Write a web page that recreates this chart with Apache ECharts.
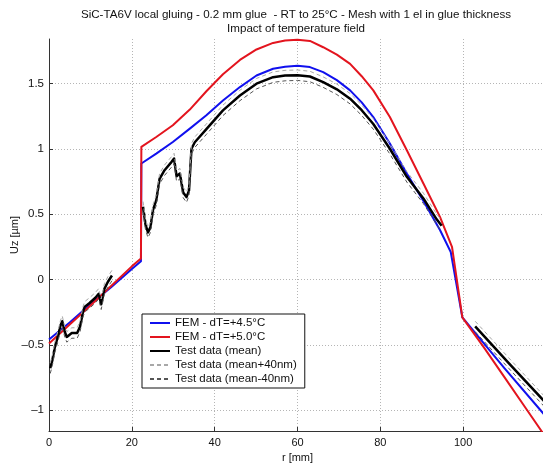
<!DOCTYPE html>
<html>
<head>
<meta charset="utf-8">
<script src="https://cdn.jsdelivr.net/npm/echarts@6/dist/echarts.min.js"></script>
<style>html,body{margin:0;padding:0;background:#fff}#c{width:543px;height:464px}</style>
</head>
<body>
<div id="c"></div>
<script>
// ---- Data ----
const titleLines = ["SiC-TA6V local gluing - 0.2 mm glue  - RT to 25°C - Mesh with 1 el in glue thickness", "Impact of temperature field"];
const seriesNames = ["FEM - dT=+4.5°C", "FEM - dT=+5.0°C", "Test data (mean)", "Test data (mean+40nm)", "Test data (mean-40nm)"];

const blueX = [0, 5, 10, 15, 20, 22.2, 22.3, 25.9, 29.9, 34, 38, 42, 46.1, 50.1, 54.1, 57, 60, 63, 66.2, 69.5, 72.7, 75.5, 78.3, 82.3, 86.4, 90.4, 94.4, 97, 99.8, 110, 120];
const blueY = [-0.46, -0.33, -0.19, -0.06, 0.08, 0.14, 0.887, 0.963, 1.052, 1.154, 1.256, 1.37, 1.472, 1.561, 1.612, 1.628, 1.635, 1.625, 1.586, 1.525, 1.447, 1.355, 1.243, 1.04, 0.81, 0.6, 0.378, 0.21, -0.29, -0.68, -1.05];

const redX = [0, 5, 10, 15, 20, 22.2, 22.3, 25.9, 29.9, 34, 38, 42, 46.1, 50.1, 54.1, 57, 60, 63, 66.2, 69.5, 72.7, 75.5, 78.3, 82.3, 86.4, 90.4, 94.4, 97.3, 99.8, 105, 110, 115, 120];
const redY = [-0.49, -0.345, -0.2, -0.05, 0.1, 0.16, 1.014, 1.09, 1.18, 1.3, 1.44, 1.57, 1.68, 1.76, 1.81, 1.828, 1.835, 1.825, 1.777, 1.72, 1.65, 1.555, 1.447, 1.243, 0.989, 0.734, 0.479, 0.25, -0.29, -0.52, -0.75, -0.98, -1.21];

// Test data: three measured segments
const meanX1 = [0.3, 0.8, 1.4, 2.2, 2.8, 3.2, 3.8, 4.3, 5.5, 6.8, 7.5, 8.2, 8.6, 9.8, 11.2, 12, 12.6, 13.4, 14.2, 15.2];
const meanY1 = [-0.68, -0.62, -0.52, -0.43, -0.35, -0.32, -0.4, -0.44, -0.41, -0.41, -0.36, -0.25, -0.21, -0.18, -0.14, -0.11, -0.19, -0.07, -0.02, 0.03];
const plusY1 = [-0.64, -0.58, -0.48, -0.39, -0.31, -0.28, -0.36, -0.4, -0.37, -0.37, -0.32, -0.21, -0.17, -0.14, -0.1, -0.07, -0.15, -0.03, 0.02, 0.07];
const minusY1 = [-0.72, -0.66, -0.56, -0.47, -0.39, -0.36, -0.44, -0.48, -0.45, -0.45, -0.4, -0.29, -0.25, -0.22, -0.18, -0.15, -0.23, -0.11, -0.06, -0.01];

const meanX2 = [22.7, 23.3, 23.9, 24.5, 25.1, 25.9, 26.7, 27.9, 29.6, 30.2, 30.8, 31.6, 32.4, 33.2, 33.8, 34.4, 35.2, 38, 42, 46.1, 50.1, 54.1, 57, 60, 63, 66.2, 69.5, 72.7, 75.5, 78.3, 82.3, 86.4, 90.4, 93.6, 94.8];
const meanY2 = [0.556, 0.42, 0.36, 0.4, 0.53, 0.607, 0.77, 0.836, 0.9, 0.925, 0.79, 0.81, 0.665, 0.63, 0.68, 1.0, 1.05, 1.15, 1.294, 1.408, 1.498, 1.548, 1.56, 1.563, 1.553, 1.51, 1.455, 1.383, 1.295, 1.19, 1.0, 0.785, 0.62, 0.46, 0.41];
const plusY2 = [0.596, 0.46, 0.4, 0.44, 0.57, 0.647, 0.81, 0.876, 0.94, 0.965, 0.83, 0.85, 0.705, 0.67, 0.72, 1.04, 1.09, 1.19, 1.334, 1.448, 1.538, 1.588, 1.6, 1.603, 1.593, 1.55, 1.495, 1.423, 1.335, 1.23, 1.04, 0.825, 0.66, 0.5, 0.45];
const minusY2 = [0.516, 0.38, 0.32, 0.36, 0.49, 0.567, 0.73, 0.796, 0.86, 0.885, 0.75, 0.77, 0.625, 0.59, 0.64, 0.96, 1.01, 1.11, 1.254, 1.368, 1.458, 1.508, 1.52, 1.523, 1.513, 1.47, 1.415, 1.343, 1.255, 1.15, 0.96, 0.745, 0.58, 0.42, 0.37];

const meanX3 = [102.9, 111, 119.5];
const meanY3 = [-0.36, -0.64, -0.93];
const plusY3 = [-0.32, -0.6, -0.89];
const minusY3 = [-0.4, -0.68, -0.97];

// ---- Chart ----
const FONT = "'Liberation Sans', Arial, Helvetica, sans-serif";
const pairs = (xs, ys) => xs.map((x, i) => [x, ys[i]]);
const chart = echarts.init(document.getElementById('c'), null, {renderer: 'canvas'});

function lineSeries(name, data, color, width, type, z) {
  return {
    name: name, type: 'line', data: data, symbol: 'none', showSymbol: false,
    lineStyle: {color: color, width: width, type: type, join: 'round'},
    itemStyle: {color: color},
    z: z, animation: false, silent: true
  };
}

const gridStyle = {show: true, lineStyle: {color: '#b5b5b5', type: [1, 2], width: 1}, showMinLine: false, showMaxLine: false};

chart.setOption({
  backgroundColor: '#fff',
  animation: false,
  title: {
    text: titleLines.join('\n'),
    left: 291, top: 3, textAlign: 'center',
    textStyle: {fontFamily: FONT, fontSize: 11.6, fontWeight: 'normal', color: '#111', lineHeight: 14}
  },
  grid: {left: 49, right: -3, top: 39, bottom: 33, containLabel: false, outerBoundsMode: 'none'},
  xAxis: {
    type: 'value', min: 0, max: 120, interval: 20,
    name: 'r [mm]', nameLocation: 'middle', nameGap: 18,
    nameTextStyle: {fontFamily: FONT, fontSize: 11, color: '#111'},
    axisLine: {show: true, onZero: false, lineStyle: {color: '#333', width: 1}},
    axisTick: {show: true, inside: true, length: 4, lineStyle: {color: '#333'}},
    axisLabel: {fontFamily: FONT, fontSize: 11, color: '#111', margin: 6, showMaxLabel: false},
    splitLine: gridStyle
  },
  yAxis: {
    type: 'value', min: -1.16, max: 1.84, splitNumber: 5,
    name: 'Uz [µm]', nameLocation: 'middle', nameGap: 29, nameRotate: 90, nameMoveOverlap: false,
    nameTextStyle: {fontFamily: FONT, fontSize: 11, color: '#111'},
    axisLine: {show: true, onZero: false, lineStyle: {color: '#333', width: 1}},
    axisTick: {show: true, inside: true, length: 4, lineStyle: {color: '#333'}},
    axisLabel: {fontFamily: FONT, fontSize: 11.5, color: '#111', margin: 5,
      showMinLabel: false, showMaxLabel: false,
      formatter: v => String(v).replace('-', '\u2013')},
    splitLine: gridStyle
  },
  legend: {
    orient: 'vertical', left: 142, top: 314,
    data: seriesNames,
    itemWidth: 20, itemHeight: 10, itemGap: 2,
    padding: [3, 8, 3, 7],
    borderColor: '#111', borderWidth: 1, backgroundColor: '#fff',
    itemStyle: {color: 'transparent', borderWidth: 0, opacity: 0},
    textStyle: {fontFamily: FONT, fontSize: 11.5, color: '#111'},
    selectedMode: false
  },
  series: [
    lineSeries(seriesNames[0], pairs(blueX, blueY), '#1010ee', 2, 'solid', 3),
    lineSeries(seriesNames[1], pairs(redX, redY), '#e3141e', 2, 'solid', 4),
    lineSeries(seriesNames[2], pairs(meanX1, meanY1), '#000', 2.5, 'solid', 5),
    lineSeries(seriesNames[3], pairs(meanX1, plusY1), '#a8a8a8', 1, [4, 3], 6),
    lineSeries(seriesNames[4], pairs(meanX1, minusY1), '#555', 1, [4, 3], 6),
    lineSeries(seriesNames[2], pairs(meanX2, meanY2), '#000', 2.5, 'solid', 5),
    lineSeries(seriesNames[3], pairs(meanX2, plusY2), '#a8a8a8', 1, [4, 3], 6),
    lineSeries(seriesNames[4], pairs(meanX2, minusY2), '#555', 1, [4, 3], 6),
    lineSeries(seriesNames[2], pairs(meanX3, meanY3), '#000', 2.5, 'solid', 5),
    lineSeries(seriesNames[3], pairs(meanX3, plusY3), '#a8a8a8', 1, [4, 3], 6),
    lineSeries(seriesNames[4], pairs(meanX3, minusY3), '#555', 1, [4, 3], 6)
  ]
});
</script>
</body>
</html>
